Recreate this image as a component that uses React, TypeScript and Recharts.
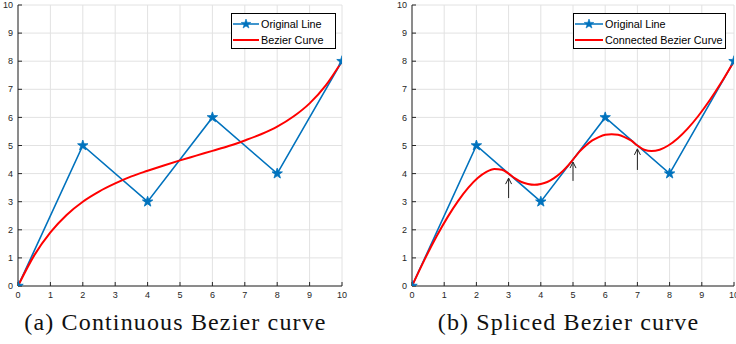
import React from 'react';
import { LineChart, Line, XAxis, YAxis, CartesianGrid } from 'recharts';

// ---- data ----
const axisTicks = [0, 1, 2, 3, 4, 5, 6, 7, 8, 9, 10];
const originalX = [0, 2, 4, 6, 8, 10];
const originalY = [0, 5, 3, 6, 4, 8];

const bezierX = [0, 0.5, 1, 1.5, 2, 2.5, 3, 3.5, 4, 4.5, 5, 5.5, 6, 6.5, 7, 7.5, 8, 8.5, 9, 9.5, 10];
const bezierY = [0, 1.09, 1.91, 2.53, 3.0, 3.36, 3.65, 3.9, 4.1, 4.29, 4.47, 4.64, 4.81, 4.98, 5.18, 5.4, 5.67, 6.03, 6.5, 7.14, 8];

const splicedX = [0, 0.39, 0.76, 1.11, 1.44, 1.75, 2.04, 2.31, 2.56, 2.79, 3,
  3.2, 3.4, 3.6, 3.8, 4.0, 4.2, 4.4, 4.6, 4.8, 5,
  5.2, 5.4, 5.6, 5.8, 6.0, 6.2, 6.4, 6.6, 6.8, 7,
  7.21, 7.44, 7.69, 7.96, 8.25, 8.56, 8.89, 9.24, 9.61, 10];
const splicedY = [0, 0.94, 1.76, 2.46, 3.04, 3.5, 3.84, 4.06, 4.16, 4.14, 4,
  3.83, 3.7, 3.63, 3.6, 3.63, 3.7, 3.83, 4.0, 4.23, 4.5,
  4.78, 5.0, 5.18, 5.3, 5.38, 5.4, 5.38, 5.3, 5.18, 5,
  4.85, 4.8, 4.85, 5.0, 5.25, 5.6, 6.05, 6.6, 7.25, 8];

const arrowX = [3, 5, 7];
const arrowFrom = [3.13, 3.74, 4.13];
const arrowTo = [3.84, 4.41, 4.88];

const legendA = ['Original Line', 'Bezier Curve'];
const legendB = ['Original Line', 'Connected Bezier Curve'];
const captions = ['(a) Continuous Bezier curve', '(b) Spliced Bezier curve'];

const zip = (xs: number[], ys: number[]) => xs.map((x, i) => ({ x, y: ys[i] }));

const BLUE = '#0072BD';
const RED = '#FF0000';
const AX = '#262626';
const GRID = '#e2e2e2';
const SANS = '"Liberation Sans", Arial, Helvetica, sans-serif';
const SERIF = '"Liberation Serif", "DejaVu Serif", serif';

function starPath(cx: number, cy: number, R: number, r: number) {
  const pts: string[] = [];
  for (let i = 0; i < 10; i++) {
    const ang = -Math.PI / 2 + (i * Math.PI) / 5;
    const rad = i % 2 === 0 ? R : r;
    pts.push(`${(cx + rad * Math.cos(ang)).toFixed(2)},${(cy + rad * Math.sin(ang)).toFixed(2)}`);
  }
  return 'M' + pts.join('L') + 'Z';
}

const StarDot = (p: any) => {
  if (p.cx == null || p.cy == null) return <g key={p.index} />;
  return <path key={p.index} d={starPath(p.cx, p.cy, 5.5, 2.2)} fill={BLUE} stroke={BLUE} strokeWidth={0.8} />;
};

const ArrowHead = (p: any) => {
  if (p.index !== 1 || p.cx == null) return <g key={p.index} />;
  return (
    <path key={p.index} d={`M${p.cx - 3},${p.cy + 6} L${p.cx},${p.cy} L${p.cx + 3},${p.cy + 6}`}
      stroke="#222" strokeWidth={1} fill="none" />
  );
};

const EmptyTick = () => <g />;

function Legend({ left, width, labels, sample }: { left: number; width: number; labels: string[]; sample: number }) {
  return (
    <div style={{ position: 'absolute', left, top: 13, width, height: 36, boxSizing: 'border-box', border: '1px solid #000', background: '#fff' }}>
      {labels.map((lab, i) => (
        <div key={lab} style={{ position: 'absolute', left: 1, top: i === 0 ? 3 : 19, height: 14, display: 'flex', alignItems: 'center' }}>
          <svg width={sample} height={14} style={{ display: 'block' }}>
            <line x1={0} y1={7} x2={sample} y2={7} stroke={i === 0 ? BLUE : RED} strokeWidth={i === 0 ? 1.5 : 2} />
            {i === 0 && <path d={starPath(sample / 2, 7, 5, 2)} fill={BLUE} stroke={BLUE} strokeWidth={0.6} />}
          </svg>
          <span style={{ fontFamily: SANS, fontSize: 10.8, color: '#000', marginLeft: 2, whiteSpace: 'nowrap', lineHeight: '14px' }}>{lab}</span>
        </div>
      ))}
    </div>
  );
}

function Panel({ width, curve, arrows }: { width: number; curve: { x: number; y: number }[]; arrows: boolean }) {
  const tickStyle = { fontSize: 9, fill: AX, fontFamily: SANS };
  return (
    <LineChart width={width} height={300} margin={{ top: 5, right: 8, left: 0, bottom: 0 }}>
      <CartesianGrid stroke={GRID} strokeWidth={1} />
      <XAxis type="number" dataKey="x" domain={[0, 10]} ticks={axisTicks} interval={0} height={14}
        tickSize={-4} tickMargin={10} axisLine={{ stroke: AX }} tickLine={{ stroke: AX }} tick={tickStyle} allowDataOverflow />
      <XAxis xAxisId="t" orientation="top" type="number" dataKey="x" domain={[0, 10]} ticks={axisTicks} interval={0} height={0}
        tickSize={-4} axisLine={{ stroke: AX }} tickLine={{ stroke: AX }} tick={EmptyTick} />
      <YAxis type="number" domain={[0, 10]} ticks={axisTicks} interval={0} width={18}
        tickSize={-4} tickMargin={9} axisLine={{ stroke: AX }} tickLine={{ stroke: AX }} tick={tickStyle} allowDataOverflow />
      <YAxis yAxisId="r" orientation="right" type="number" domain={[0, 10]} ticks={axisTicks} interval={0} width={0}
        tickSize={-4} axisLine={{ stroke: AX }} tickLine={{ stroke: AX }} tick={EmptyTick} />
      <Line data={zip(originalX, originalY)} dataKey="y" type="linear" stroke={BLUE} strokeWidth={1.6}
        dot={StarDot} activeDot={false} isAnimationActive={false} />
      <Line data={curve} dataKey="y" type="monotone" stroke={RED} strokeWidth={2}
        dot={false} activeDot={false} isAnimationActive={false} />
      {arrows && arrowX.map((ax, i) => (
        <Line key={'arr' + i} data={[{ x: ax, y: arrowFrom[i] }, { x: ax, y: arrowTo[i] }]} dataKey="y" type="linear"
          stroke="#222" strokeWidth={1} dot={ArrowHead} activeDot={false} isAnimationActive={false} />
      ))}
    </LineChart>
  );
}

const captionStyle: React.CSSProperties = {
  position: 'absolute', top: 308, textAlign: 'center', fontFamily: SERIF, fontSize: 24,
  letterSpacing: 1.15, color: '#111', whiteSpace: 'nowrap', lineHeight: '28px',
};

export default function App() {
  return (
    <div style={{ position: 'absolute', left: 0, top: 0, width: 736, height: 344, overflow: 'hidden', background: '#fff' }}>
      <div style={{ position: 'absolute', left: 0, top: 0 }}>
        <Panel width={350} curve={zip(bezierX, bezierY)} arrows={false} />
      </div>
      <div style={{ position: 'absolute', left: 394, top: 0 }}>
        <Panel width={348} curve={zip(splicedX, splicedY)} arrows={true} />
      </div>
      <Legend left={231} width={105} labels={legendA} sample={26} />
      <Legend left={573} width={153} labels={legendB} sample={28} />
      <div style={{ ...captionStyle, left: 15, width: 321 }}>{captions[0]}</div>
      <div style={{ ...captionStyle, left: 428, width: 281 }}>{captions[1]}</div>
    </div>
  );
}
